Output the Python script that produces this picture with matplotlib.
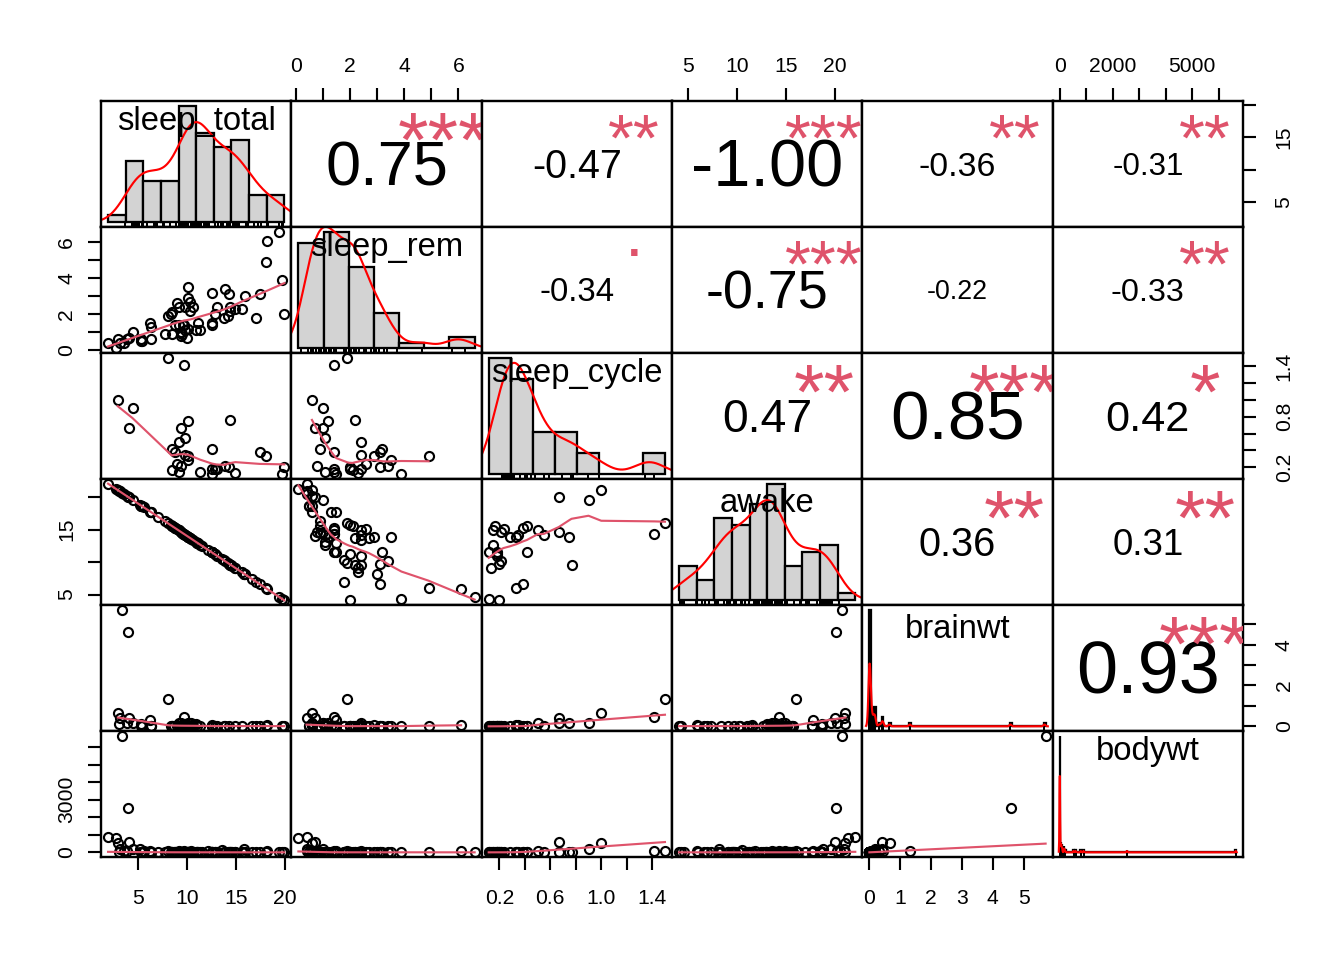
import numpy as np
import matplotlib
matplotlib.use("Agg")
import matplotlib.pyplot as plt
from matplotlib.font_manager import FontProperties, findfont, get_font
from matplotlib.textpath import TextPath
from matplotlib.transforms import ScaledTranslation, blended_transform_factory

plt.rcParams['font.family'] = ['Liberation Sans', 'DejaVu Sans']

NA = np.nan

# msleep columns, one value per animal (NA = missing)
var_names = ["sleep_total", "sleep_rem", "sleep_cycle", "awake", "brainwt", "bodywt"]

sleep_total = [12.1, 17.0, 14.4, 14.9, 4.0, 14.4, 8.7, 7.0, 10.1, 3.0, 5.3, 9.4, 10.0, 12.5,
               10.3, 8.3, 9.1, 17.4, 5.3, 18.0, 3.9, 19.7, 2.9, 3.1, 10.1, 10.9, 14.9, 12.5,
               9.8, 1.9, 2.7, 6.2, 6.3, 8.0, 9.5, 3.3, 19.4, 10.1, 14.2, 14.3, 12.8, 12.5,
               19.9, 14.6, 11.0, 7.7, 14.5, 8.4, 3.8, 9.7, 15.8, 10.4, 13.5, 9.4, 10.3, 11.0,
               11.5, 13.7, 3.5, 5.6, 11.1, 18.1, 5.4, 13.0, 8.7, 9.6, 8.4, 11.3, 10.6, 16.6,
               13.8, 15.9, 12.8, 9.1, 8.6, 15.8, 4.4, 15.6, 8.9, 5.2, 6.3, 12.5, 9.8]

sleep_rem = [NA, 1.8, 2.4, 2.3, 0.7, 2.2, 1.4, NA, 2.9, NA, 0.6, 0.8, 0.7, 1.5,
             2.2, 2.0, 1.4, 3.1, 0.5, 4.9, NA, 3.9, 0.6, 0.4, 3.5, 1.1, NA, 3.2,
             1.1, 0.4, 0.1, 1.5, 0.6, 1.9, 0.9, NA, 6.6, 1.2, 1.9, 3.1, NA, 1.4,
             2.0, NA, NA, 0.9, NA, 0.9, 0.6, 1.4, NA, NA, NA, 1.0, 2.7, NA,
             NA, 1.8, 0.4, NA, 1.5, 6.1, 0.5, 2.4, NA, 1.4, 2.1, 1.1, 2.4, NA,
             3.4, 3.0, 2.0, 2.4, NA, NA, 1.0, 2.3, 2.6, NA, 1.3, NA, 2.4]

sleep_cycle = [NA, NA, NA, 0.1333, 0.6667, 0.7667, 0.3833, NA, 0.3333, NA, NA, 0.2167, NA, 0.1167,
               NA, NA, 0.15, 0.3833, NA, 0.3333, NA, 0.1167, 1.0, NA, 0.2833, NA, NA, 0.4167,
               0.55, NA, NA, NA, NA, 1.5, NA, NA, NA, 0.75, NA, 0.2, NA, 0.1833,
               0.2, NA, NA, NA, NA, 0.4167, NA, 1.4167, NA, NA, NA, 0.6667, NA, NA,
               NA, NA, NA, NA, NA, NA, NA, 0.1833, NA, NA, 0.1667, 0.15, NA, NA,
               0.2167, NA, 0.1833, 0.5, NA, NA, 0.9, NA, 0.2333, NA, NA, NA, 0.35]

awake = [11.9, 7.0, 9.6, 9.1, 20.0, 9.6, 15.3, 17.0, 13.9, 21.0, 18.7, 14.6, 14.0, 11.5,
         13.7, 15.7, 14.9, 6.6, 18.7, 6.0, 20.1, 4.3, 21.1, 20.9, 13.9, 13.1, 9.1, 11.5,
         14.2, 22.1, 21.35, 17.8, 17.7, 16.0, 14.5, 20.7, 4.6, 13.9, 9.8, 9.7, 11.2, 11.5,
         4.1, 9.4, 13.0, 16.3, 9.5, 15.6, 20.2, 14.3, 8.2, 13.6, 10.5, 14.6, 13.7, 13.0,
         12.5, 10.3, 20.5, 18.45, 12.9, 5.9, 18.6, 11.0, 15.3, 14.4, 15.6, 12.7, 13.4, 7.4,
         10.2, 8.1, 11.2, 14.9, 15.4, 8.2, 19.6, 8.4, 15.1, 18.8, 17.7, 11.5, 14.2]

brainwt = [NA, 0.0155, NA, 0.00029, 0.423, NA, NA, NA, 0.07, 0.0982, 0.115, 0.0055, NA, 0.0064,
           0.001, 0.0066, 0.00014, 0.0108, 0.0123, 0.0063, 4.603, 0.0003, 0.655, 0.419, 0.0035, 0.115, NA, 0.0256,
           0.005, NA, NA, 0.325, 0.01227, 1.32, NA, 5.712, NA, 0.179, NA, 0.001, NA, 0.0004,
           0.00025, NA, 0.0125, NA, NA, 0.0121, 0.175, 0.44, NA, 0.157, NA, 0.18, 0.0024, NA,
           NA, 0.0114, NA, NA, NA, 0.081, 0.021, 0.0019, NA, 0.02, 0.0012, 0.00118, 0.003, 0.0057,
           0.004, NA, 0.00033, 0.18, 0.025, NA, 0.169, 0.0026, 0.0025, NA, 0.0175, 0.0445, 0.0504]

bodywt = [50.0, 0.48, 1.35, 0.019, 600.0, 3.85, 20.49, 0.045, 14.0, 14.8, 33.5, 0.728, 4.75, 0.42,
          0.06, 1.0, 0.005, 3.5, 2.95, 1.7, 2547.0, 0.023, 521.0, 187.0, 0.77, 10.0, 0.071, 3.3,
          0.2, 899.995, 800.0, 85.0, 2.625, 62.0, 1.67, 6654.0, 0.37, 6.8, 0.053, 0.12, 0.035, 0.022,
          0.01, 0.266, 1.4, 0.21, 0.028, 2.5, 55.5, 52.2, 162.564, 100.0, 161.499, 25.235, 0.55, 1.1,
          0.021, 1.62, 86.0, 53.18, 1.1, 60.0, 3.6, 0.32, 0.044, 0.743, 0.075, 0.148, 0.122, 0.92,
          0.101, 0.205, 0.048, 86.25, 4.5, 0.112, 207.501, 0.9, 0.104, 173.33, 2.0, 3.38, 4.23]

# correlation panels (row, col) -> printed value and significance stars
cor_text = {(0, 1): "0.75", (0, 2): "-0.47", (0, 3): "-1.00", (0, 4): "-0.36", (0, 5): "-0.31",
            (1, 2): "-0.34", (1, 3): "-0.75", (1, 4): "-0.22", (1, 5): "-0.33",
            (2, 3): "0.47", (2, 4): "0.85", (2, 5): "0.42",
            (3, 4): "0.36", (3, 5): "0.31",
            (4, 5): "0.93"}
cor_stars = {(0, 1): "***", (0, 2): "**", (0, 3): "***", (0, 4): "**", (0, 5): "**",
             (1, 2): ".", (1, 3): "***", (1, 4): "", (1, 5): "**",
             (2, 3): "**", (2, 4): "***", (2, 5): "*",
             (3, 4): "**", (3, 5): "**",
             (4, 5): "***"}

# axis ticks per variable, and which labels R printed
var_ticks = [[5, 10, 15, 20], [0, 1, 2, 3, 4, 5, 6], [0.2, 0.4, 0.6, 0.8, 1.0, 1.2, 1.4],
             [5, 10, 15, 20], [0, 1, 2, 3, 4, 5], [0, 1000, 2000, 3000, 4000, 5000, 6000]]
x_tick_text = [["5", "10", "15", "20"], ["0", "", "2", "", "4", "", "6"],
               ["0.2", "", "0.6", "", "1.0", "", "1.4"], ["5", "10", "15", "20"],
               ["0", "1", "2", "3", "4", "5"], ["0", "", "2000", "", "", "5000", ""]]
y_tick_text = [["5", "", "15", ""], ["0", "", "2", "", "4", "", "6"],
               ["0.2", "", "", "0.8", "", "", "1.4"], ["5", "", "15", ""],
               ["0", "", "2", "", "4", ""], ["0", "", "", "3000", "", "", ""]]

data = [np.array(v, dtype=float) for v in
        [sleep_total, sleep_rem, sleep_cycle, awake, brainwt, bodywt]]

SMOOTH_COL = "#DF536B"
FONT = "Liberation Sans"
font_file = findfont(FontProperties(family=FONT))


def adv_width(s, size):
    # sum of glyph advances in points, like R's strwidth
    ft = get_font(font_file)
    ft.set_size(100, 72)
    w = sum(ft.load_char(ord(c)).linearHoriAdvance / 65536.0 for c in s)
    return w * size / 100.0


def r_pretty(lo, hi, n):
    h, h5 = 1.5, 0.5 + 1.5 * 1.5
    cell = (hi - lo) / n
    base = 10 ** np.floor(np.log10(cell))
    unit = base
    if 2 * base - cell < h * (cell - unit):
        unit = 2 * base
        if 5 * base - cell < h5 * (cell - unit):
            unit = 5 * base
            if 10 * base - cell < h * (cell - unit):
                unit = 10 * base
    ns = np.floor(lo / unit + 1e-7)
    nu = np.ceil(hi / unit - 1e-7)
    return np.arange(ns, nu + 1) * unit


def fd_breaks(x):
    q75, q25 = np.percentile(x, [75, 25])
    h = 2 * (q75 - q25)
    k = int(np.ceil((x.max() - x.min()) / (h * len(x) ** (-1 / 3))))
    return r_pretty(x.min(), x.max(), k)


def kde(x):
    n = len(x)
    sd = np.std(x, ddof=1)
    q75, q25 = np.percentile(x, [75, 25])
    bw = 0.9 * min(sd, (q75 - q25) / 1.34) * n ** -0.2
    grid = np.linspace(x.min() - 3 * bw, x.max() + 3 * bw, 512)
    d = np.exp(-0.5 * ((grid[:, None] - x[None, :]) / bw) ** 2).sum(1)
    return grid, d / (n * bw * np.sqrt(2 * np.pi))


def lowess(x, y, f=2 / 3, iters=3):
    o = np.argsort(x, kind="mergesort")
    x, y = x[o], y[o]
    n = len(x)
    ns = max(2, min(n, int(f * n + 1e-7)))
    rng = x[-1] - x[0]
    rw = np.ones(n)
    ys = np.zeros(n)
    for it in range(iters + 1):
        nleft, nright = 0, ns - 1
        for i in range(n):
            while nright < n - 1 and x[i] - x[nleft] > x[nright + 1] - x[i]:
                nleft += 1
                nright += 1
            h = max(x[i] - x[nleft], x[nright] - x[i])
            r = np.abs(x - x[i])
            w = np.zeros(n)
            m = np.zeros(n, bool)
            m[nleft:] = r[nleft:] <= 0.999 * h
            if h > 0:
                w[m] = np.where(r[m] <= 0.001 * h, 1.0, (1 - (r[m] / h) ** 3) ** 3)
            else:
                w[m] = 1.0
            w *= rw
            a = w.sum()
            if a <= 0:
                ys[i] = y[i]
                continue
            w /= a
            if h > 0:
                a = (w * x).sum()
                b = x[i] - a
                c = (w * (x - a) ** 2).sum()
                if np.sqrt(c) > 0.001 * rng:
                    b /= c
                    w = w * (b * (x - a) + 1)
            ys[i] = (w * y).sum()
        if it == iters:
            break
        res = np.abs(y - ys)
        cmad = 6 * np.median(res)
        if cmad < 1e-7 * np.mean(np.abs(y)):
            break
        rw = np.where(res <= 0.001 * cmad, 1.0,
                      np.where(res <= 0.999 * cmad, (1 - (res / cmad) ** 2) ** 2, 0.0))
    return x, ys


def ext_range(v):
    lo, hi = np.nanmin(v), np.nanmax(v)
    d = 0.04 * (hi - lo)
    return lo - d, hi + d


fig = plt.figure(figsize=(7, 5), dpi=192)
L, R, B, T = 101 / 1344, 1243 / 1344, 1 - 857 / 960, 1 - 101 / 960
pw, ph = (R - L) / 6, (T - B) / 6
panel_pt = pw * 7 * 72  # panel width in points


def ink_text(ax, x, y, s, fs, color):
    # centre the drawn glyphs on (x, y) in panel fractions
    ext = TextPath((0, 0), s, size=fs, prop=FontProperties(family=FONT)).get_extents()
    cy = (ext.y0 + ext.y1) / 2
    off = ScaledTranslation(0, -cy / 72, fig.dpi_scale_trans)
    ax.text(x, y, s, fontsize=fs, color=color, family=FONT, ha="center", va="baseline",
            transform=ax.transAxes + off, clip_on=True)


label_fs = 0.9 * panel_pt / max(adv_width(s, 1) for s in var_names)

for i in range(6):
    for j in range(6):
        ax = fig.add_axes([L + j * pw, T - (i + 1) * ph, pw, ph])
        for sp in ax.spines.values():
            sp.set_linewidth(0.9)
        ax.tick_params(which="both", bottom=False, top=False, left=False, right=False,
                       labelbottom=False, labeltop=False, labelleft=False, labelright=False)
        xv, yv = data[j], data[i]

        if i == j:
            x = xv[~np.isnan(xv)]
            br = fd_breaks(x)
            fuzz = 1e-7 * np.median(np.diff(br))
            fb = br + fuzz
            fb[0] = br[0] - fuzz
            idx = np.clip(np.searchsorted(fb, x, side="left") - 1, 0, len(br) - 2)
            counts = np.bincount(idx, minlength=len(br) - 1)
            dens = counts / (len(x) * np.diff(br))
            ax.bar(br[:-1], dens, width=np.diff(br), align="edge", color="#D3D3D3",
                   edgecolor="black", linewidth=0.85)
            gx, gd = kde(x)
            ax.plot(gx, gd, color="red", lw=0.8)
            trans = blended_transform_factory(ax.transData, ax.transAxes)
            ax.vlines(x, 0, 0.03, transform=trans, color="black", lw=0.75)
            span = br[-1] - br[0]
            ax.set_xlim(br[0] - 0.04 * span, br[-1] + 0.04 * span)
            top = dens.max()
            ax.set_ylim(-0.04 * top, 1.04 * top)
            ink_text(ax, 0.5, 0.8333, var_names[i], label_fs, "black")
            continue

        ax.set_xlim(*ext_range(xv))
        ax.set_ylim(*ext_range(yv))

        if i > j:
            ok = ~np.isnan(xv) & ~np.isnan(yv)
            ax.plot(xv[ok], yv[ok], "o", mfc="none", mec="black", ms=3.4, mew=0.8)
            sx, sy = lowess(xv[ok], yv[ok])
            ax.plot(sx, sy, color=SMOOTH_COL, lw=0.8)
        else:
            txt = cor_text[(i, j)]
            r = abs(float(txt))
            base = 0.8 * panel_pt / adv_width(txt, 1)
            ink_text(ax, 0.5, 0.5, txt, base * (r + 0.3) / 1.3, "black")
            if cor_stars[(i, j)]:
                ink_text(ax, 0.8, 0.8, cor_stars[(i, j)], base, SMOOTH_COL)

        # outer axes alternate sides, as in pairs()
        tick_kw = dict(direction="out", length=4.76, width=0.8, labelsize=7.92, colors="black")
        if i == 5 and j % 2 == 0:
            ax.set_xticks(var_ticks[j], x_tick_text[j])
            ax.tick_params(axis="x", bottom=True, labelbottom=True, pad=7.3, **tick_kw)
        if i == 0 and j % 2 == 1:
            ax.set_xticks(var_ticks[j], x_tick_text[j])
            ax.tick_params(axis="x", top=True, labeltop=True, pad=4.7, **tick_kw)
        if j == 0 and i % 2 == 1:
            ax.set_yticks(var_ticks[i], y_tick_text[i])
            ax.tick_params(axis="y", left=True, labelleft=True, pad=4.6, labelrotation=90, **tick_kw)
            plt.setp(ax.get_yticklabels(), va="center")
        if j == 5 and i % 2 == 0:
            ax.set_yticks(var_ticks[i], y_tick_text[i])
            ax.tick_params(axis="y", right=True, labelright=True, pad=7.1, labelrotation=90, **tick_kw)
            plt.setp(ax.get_yticklabels(which="both"), va="center")
        if not (i == 5 and j % 2 == 0) and not (i == 0 and j % 2 == 1):
            ax.set_xticks([])
        if not (j == 0 and i % 2 == 1) and not (j == 5 and i % 2 == 0):
            ax.set_yticks([])

fig.savefig("out.png", dpi=192, facecolor="white")
